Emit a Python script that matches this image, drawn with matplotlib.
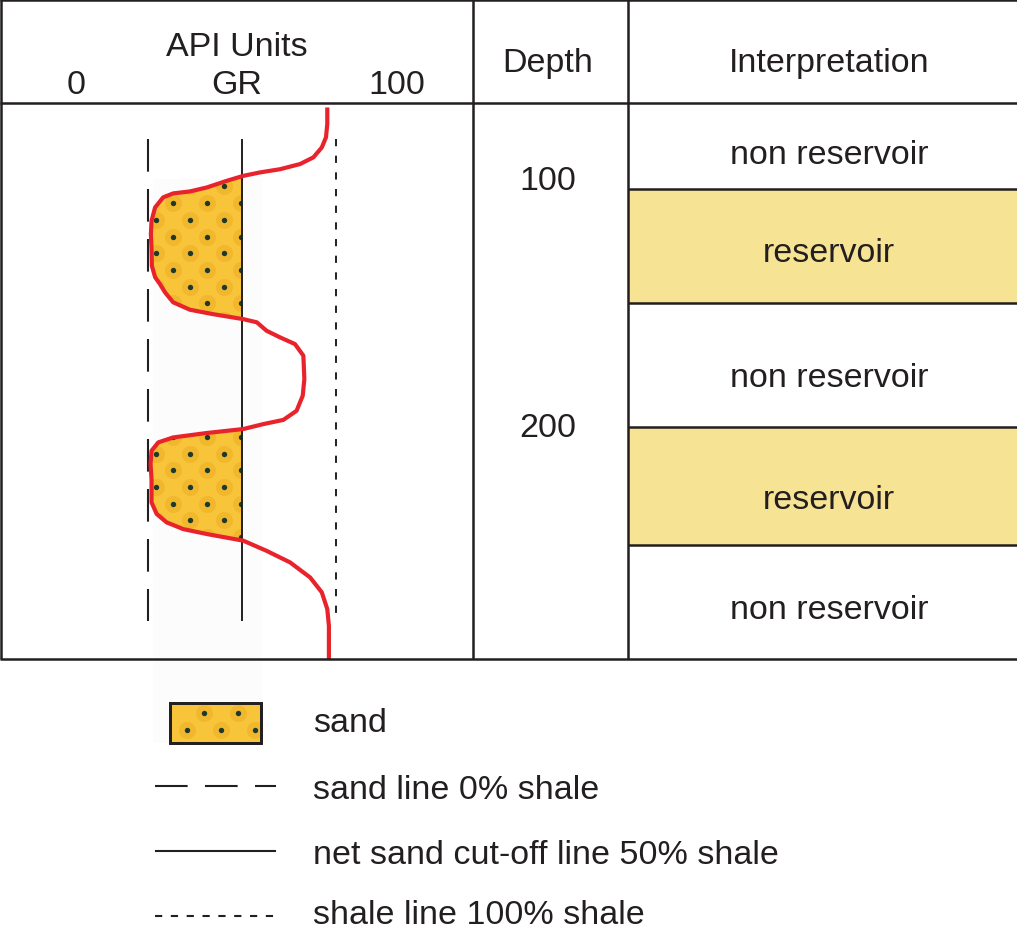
import numpy as np
import matplotlib
matplotlib.use('Agg')
import matplotlib.pyplot as plt
from matplotlib.patches import Rectangle
from matplotlib.path import Path
from matplotlib.transforms import offset_copy

plt.rcParams['font.family'] = ['Liberation Sans', 'DejaVu Sans']
plt.rcParams['lines.scale_dashes'] = False

# gamma ray log (API units vs depth)
gr = [78.1, 78.1, 77.7, 76.4, 73.8, 69.7, 63.5, 57.3, 52.1, 47.0, 40.8, 35.6,
      30.4, 27.3, 24.8, 23.7, 23.5, 23.7, 23.8, 24.8, 26.3, 27.9, 30.4, 35.6,
      42.8, 52.1, 56.3, 59.3, 63.5, 68.1, 70.7, 71.0, 70.5, 68.6, 64.5, 58.3,
      52.1, 40.8, 30.4, 25.8, 23.7, 23.4, 23.7, 23.7, 25.3, 28.4, 33.5, 40.8,
      52.1, 59.3, 66.6, 72.8, 76.4, 78.1, 78.6, 78.6]
depth = [71.8, 78.5, 83.9, 88.0, 92.0, 94.7, 96.8, 98.1, 99.5, 101.5, 104.2,
         105.8, 106.6, 108.2, 112.3, 117.7, 123.1, 129.1, 135.9, 140.5, 143.3,
         146.7, 150.7, 153.7, 155.5, 157.5, 158.8, 162.2, 164.9, 167.6, 172.3,
         181.8, 188.5, 194.6, 198.3, 200.0, 202.0, 203.6, 205.4, 207.4, 210.8,
         216.2, 222.3, 231.7, 236.4, 239.8, 242.5, 244.5, 247.2, 251.3, 256.0,
         262.1, 268.1, 274.9, 281.7, 295.1]

sand_line = 22.6
shale_line = 80.8
cutoff = (sand_line + shale_line) / 2
line_top = 84.6
line_bottom = 279.8
shale_bottom = 277.7

depth_ticks = [100, 200]
zone_tops = [70, 105, 151, 201, 249]
zone_bottoms = [105, 151, 201, 249, 295]
zone_labels = ['non reservoir', 'reservoir', 'non reservoir', 'reservoir', 'non reservoir']
label_depths = [89.5, 129.1, 179.8, 229.1, 273.7]

legend_labels = ['sand', 'sand line 0% shale', 'net sand cut-off line 50% shale',
                 'shale line 100% shale']

W, H = 1017, 929
ink = '#231f20'
red = '#e8232b'
sand_col = '#f8c43a'
res_col = '#f7e394'
fs = 24.5

fig = plt.figure(figsize=(W / 100, H / 100), dpi=100)


def px_axes(zorder):
    a = fig.add_axes([0, 0, 1, 1], zorder=zorder)
    a.set_xlim(0, W)
    a.set_ylim(H, 0)
    a.axis('off')
    a.patch.set_alpha(0)
    return a


def track_axes(x0, x1, zorder):
    a = fig.add_axes([x0 / W, (H - 660) / H, (x1 - x0) / W, (660 - 104) / H],
                     zorder=zorder)
    a.set_ylim(295.1, 70.0)
    a.axis('off')
    a.patch.set_alpha(0)
    return a


def txt(a, x, y, s, ha='center', **kw):
    tr = offset_copy(a.transData, fig=fig, y=-3.5, units='dots')
    return a.text(x, y, s, ha=ha, va='center', fontsize=fs, color=ink,
                  transform=tr, **kw)


def sand_dots(a, x, y, clip, tr=None):
    halo = a.scatter(x, y, s=150, c='#e39a12', alpha=0.3, lw=0, zorder=3)
    dot = a.scatter(x, y, s=15, c='#1d3a2a', lw=0, zorder=4)
    for c in (halo, dot):
        if tr is None:
            c.set_clip_path(clip)
        else:
            c.set_clip_path(clip, tr)


ax_bg = px_axes(0)
# faint band behind the sand column
ax_bg.add_patch(Rectangle((153, 180), 109, 564, fc='#fdfcfc', ec='none'))

# GR track
ax_gr = track_axes(0, 473, 2)
ax_gr.set_xlim(-23.2, 123.2)
gr_a = np.array(gr)
dep_a = np.array(depth)
fill = ax_gr.fill_betweenx(dep_a, gr_a, cutoff, where=gr_a < cutoff,
                           interpolate=True, color=sand_col, lw=0, zorder=1)
clip = Path.make_compound_path(*fill.get_paths())

# dot texture inside the sand
cols = cutoff - 0.3 - 5.26 * np.arange(0, 7)
rows = 103.8 + 6.76 * np.arange(-3, 32)
cx, cy = np.meshgrid(np.arange(len(cols)), np.arange(len(rows)))
keep = (cx + cy) % 2 == 0
sand_dots(ax_gr, cols[cx[keep]], rows[cy[keep]], clip, ax_gr.transData)

ax_gr.vlines(sand_line, line_top, line_bottom, color=ink, lw=1.5,
             linestyles=[(0, (23.5, 12.5))], zorder=5)
ax_gr.vlines(cutoff, line_top, line_bottom, color=ink, lw=1.4, zorder=5)
ax_gr.vlines(shale_line, line_top, shale_bottom, color=ink, lw=1.4,
             linestyles=[(0, (5.2, 6.8))], zorder=5)
ax_gr.plot(gr, depth, color=red, lw=3, solid_joinstyle='round',
           solid_capstyle='butt', zorder=6)

# depth track
ax_dep = track_axes(473, 628, 2)
ax_dep.set_xlim(0, 1)
for d in depth_ticks:
    txt(ax_dep, 0.485, d, str(d))

# interpretation track
ax_int = track_axes(628, W, 2)
ax_int.set_xlim(628, W)
for top, bot, lab, ld in zip(zone_tops, zone_bottoms, zone_labels, label_depths):
    if lab == 'reservoir':
        ax_int.axhspan(top, bot, color=res_col, lw=0, zorder=1)
    txt(ax_int, 829, ld, lab, zorder=3)
ax_int.hlines(zone_tops[1:], 628, W, color=ink, lw=1.8, zorder=2)

# table frame and header
ax = px_axes(5)
lk = dict(color=ink, lw=1.8, solid_capstyle='butt')
ax.plot([0, W], [1.2, 1.2], **lk)
ax.plot([0, W], [104, 104], **lk)
ax.plot([0, W], [660, 660], **lk)
for xv in [1.2, 473, 628]:
    ax.plot([xv, xv], [0, 660], **lk)

txt(ax, 237, 44, 'API Units')
txt(ax, 76, 82, '0')
txt(ax, 237, 82, 'GR')
txt(ax, 397, 82, '100')
txt(ax, 548, 60, 'Depth')
txt(ax, 829, 60, 'Interpretation')

# legend
box = Rectangle((170, 704), 91, 40, fc=sand_col, ec=ink, lw=2, zorder=2)
ax.add_patch(box)
lx = 187 + 17 * np.arange(5)
ly = np.where(np.arange(5) % 2 == 1, 714, 731)
sand_dots(ax, lx, ly, box)
ax.add_patch(Rectangle((170, 704), 91, 40, fc='none', ec=ink, lw=2, zorder=5))

ax.plot([155, 276], [787, 787], color=ink, lw=1.5, dashes=(23.5, 12.5))
ax.plot([156, 275], [852, 852], color=ink, lw=1.5)
ax.plot([155, 276], [917, 917], color=ink, lw=1.5, dashes=(5.2, 6.2))

for yv, lab in zip([720, 787, 852, 912], legend_labels):
    txt(ax, 313, yv, lab, ha='left')

fig.savefig('out.png', dpi=100)
